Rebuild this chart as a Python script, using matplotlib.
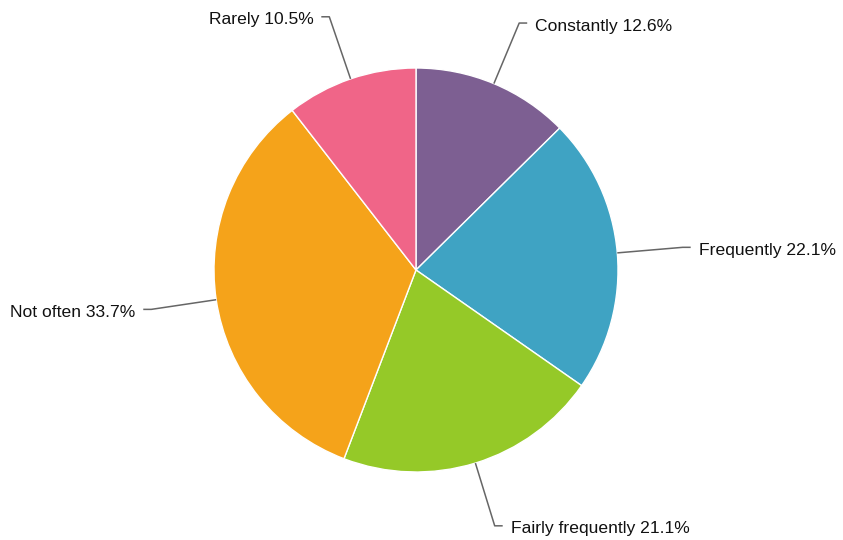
import numpy as np
import matplotlib
matplotlib.use("Agg")
import matplotlib.pyplot as plt

plt.rcParams['font.family'] = ['Liberation Sans', 'DejaVu Sans']

# 数据
categories = ["Constantly", "Frequently", "Fairly frequently", "Not often", "Rarely"]
shares = [12.6, 22.1, 21.1, 33.7, 10.5]
colors = ["#7d5f92", "#3fa3c3", "#95c928", "#f5a31a", "#f06588"]

W, H = 843, 540
fig = plt.figure(figsize=(W / 100, H / 100), dpi=100)
ax = fig.add_axes([0, 0, 1, 1])

# 饼图，从12点方向顺时针
cx, cy, r = 416, 270, 202
wedges, _ = ax.pie(shares, colors=colors, startangle=90, counterclock=False,
                   center=(cx, cy), radius=r,
                   wedgeprops=dict(edgecolor="white", linewidth=1))

ax.set_xlim(0, W)
ax.set_ylim(0, H)
ax.set_aspect("equal")
ax.axis("off")

# 引导线和标签
for w, name, val in zip(wedges, categories, shares):
    ang = np.deg2rad((w.theta1 + w.theta2) / 2)
    x0, y0 = cx + r * np.cos(ang), cy + r * np.sin(ang)
    x1, y1 = cx + r * 1.325 * np.cos(ang), cy + r * 1.325 * np.sin(ang)
    side = 1 if np.cos(ang) >= 0 else -1
    x2 = x1 + side * 8
    ax.plot([x0, x1, x2], [y0, y1, y1], color="#666666", lw=1.1,
            solid_capstyle="butt")
    ax.text(x2 + side * 8, y1 - 3, f"{name} {val}%", fontsize=12.6,
            ha="left" if side > 0 else "right", va="center", color="#111111")

fig.savefig("out.png", dpi=100)
